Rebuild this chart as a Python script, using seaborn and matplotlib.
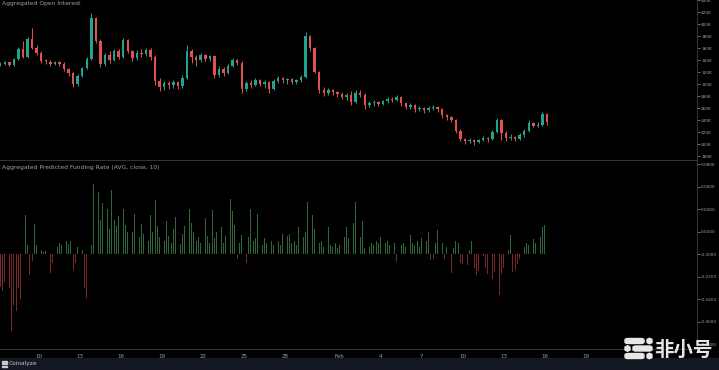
import numpy as np
import pandas as pd
import seaborn as sns
import matplotlib
matplotlib.use("Agg")
import matplotlib.pyplot as plt
import matplotlib.dates as mdates
from matplotlib.patches import Rectangle, FancyBboxPatch

# --- open interest, 8h candles (thousands of USD), first candle 7 Jan 04:00
oi_start = "2022-01-07 04:00"
oi_first_open = 331
oi_close = [333, 336, 332, 341, 358, 345, 375, 360, 352, 338,
            337, 333, 337, 334, 325, 318, 300, 314, 326, 342,
            410, 372, 333, 348, 340, 355, 345, 373, 355, 343,
            352, 350, 356, 345, 305, 295, 302, 298, 303, 296,
            310, 355, 345, 340, 348, 342, 346, 315, 325, 318,
            330, 340, 335, 292, 302, 298, 306, 300, 303, 292,
            305, 310, 306, 308, 303, 306, 312, 380, 360, 320,
            290, 285, 290, 286, 283, 278, 282, 270, 285, 282,
            265, 268, 270, 267, 271, 275, 273, 278, 268, 262,
            265, 258, 260, 256, 260, 262, 258, 248, 245, 240,
            222, 208, 205, 207, 203, 206, 210, 208, 220, 240,
            218, 210, 212, 208, 215, 222, 235, 230, 232, 250,
            236]
oi_high = [336, 338, 337, 343, 362, 372, 378, 393, 365, 355,
           342, 340, 339, 339, 336, 327, 320, 316, 328, 345,
           418, 412, 375, 352, 355, 358, 358, 377, 375, 357,
           356, 358, 360, 360, 348, 310, 305, 305, 306, 305,
           315, 365, 358, 348, 352, 350, 349, 348, 330, 328,
           333, 343, 342, 338, 305, 306, 310, 308, 307, 305,
           308, 313, 312, 310, 310, 309, 315, 387, 382, 362,
           322, 295, 293, 292, 288, 286, 285, 288, 290, 290,
           285, 271, 273, 272, 274, 278, 278, 281, 280, 270,
           268, 266, 263, 262, 263, 265, 264, 260, 250, 247,
           242, 225, 210, 210, 209, 209, 213, 212, 223, 243,
           242, 222, 216, 214, 218, 225, 240, 237, 236, 253,
           252]
oi_low = [330, 331, 330, 330, 340, 343, 344, 358, 348, 335,
          333, 330, 331, 330, 322, 314, 295, 296, 312, 325,
          340, 368, 328, 330, 335, 338, 342, 343, 352, 338,
          340, 345, 347, 340, 298, 288, 290, 292, 294, 292,
          294, 308, 335, 330, 336, 338, 338, 310, 312, 314,
          316, 328, 332, 285, 288, 294, 296, 296, 293, 285,
          290, 302, 302, 300, 300, 300, 303, 310, 355, 318,
          285, 280, 282, 282, 278, 275, 274, 265, 268, 278,
          258, 262, 264, 263, 265, 268, 270, 271, 264, 258,
          258, 254, 255, 252, 254, 256, 254, 244, 240, 236,
          218, 205, 200, 202, 199, 201, 205, 204, 206, 218,
          206, 205, 206, 205, 206, 212, 220, 228, 228, 230,
          232]

# --- aggregated predicted funding rate, 4h bars, first bar 7 Jan 04:00
fr_start = "2022-01-07 04:00"
funding = [-0.029, -0.033, -0.025, -0.036, -0.030, -0.068, -0.045, -0.051, -0.030, -0.040,
           -0.026, 0.035, 0.008, -0.019, -0.006, 0.027, 0.008, 0.003, 0.004, 0.002,
           0.003, -0.004, -0.017, -0.008, 0.004, 0.006, 0.010, 0.008, 0.032, 0.012,
           0.009, 0.012, -0.014, -0.008, 0.006, 0.012, 0.004, -0.030, -0.039, 0.012,
           0.008, 0.062, 0.050, 0.055, 0.030, 0.045, 0.032, 0.040, 0.022, 0.057,
           0.030, 0.025, 0.034, 0.018, 0.040, 0.026, 0.020, 0.012, 0.020, 0.036,
           0.022, 0.015, 0.027, 0.018, 0.024, 0.012, 0.035, 0.020, 0.048, 0.025,
           0.015, 0.020, 0.012, 0.029, 0.016, 0.010, 0.022, 0.033, 0.014, 0.009,
           0.018, 0.025, 0.062, 0.040, 0.028, 0.020, 0.012, 0.015, 0.010, 0.014,
           0.032, 0.016, 0.010, 0.039, 0.014, 0.020, 0.012, 0.024, 0.010, 0.016,
           0.022, 0.049, 0.038, 0.026, -0.004, 0.010, 0.017, -0.010, -0.008, 0.015,
           0.040, 0.012, 0.014, 0.036, 0.012, 0.008, 0.014, 0.010, 0.036, 0.012,
           0.008, 0.010, 0.012, 0.008, 0.018, 0.020, 0.016, 0.018, 0.010, 0.012,
           0.008, 0.024, 0.018, 0.015, 0.020, 0.046, 0.066, 0.035, 0.022, 0.018,
           0.010, 0.012, 0.006, 0.015, 0.024, 0.008, 0.006, 0.010, 0.005, 0.008,
           0.012, 0.015, 0.024, 0.014, 0.010, 0.028, 0.046, 0.032, 0.015, 0.029,
           0.005, -0.003, 0.006, 0.010, 0.008, 0.012, 0.010, 0.015, 0.018, 0.010,
           0.012, 0.008, 0.021, 0.010, -0.007, -0.004, 0.008, 0.010, 0.006, 0.012,
           0.017, 0.010, 0.008, 0.012, 0.006, 0.014, 0.024, 0.012, 0.020, -0.005,
           -0.004, 0.010, 0.021, 0.008, 0.010, -0.004, 0.006, -0.008, -0.017, 0.005,
           0.012, 0.010, -0.008, -0.009, -0.006, -0.010, 0.004, 0.012, -0.012, -0.019,
           -0.015, -0.011, -0.002, -0.012, -0.018, -0.014, -0.022, -0.016, -0.020, -0.036,
           -0.018, -0.012, -0.008, 0.004, 0.017, -0.016, -0.014, -0.009, -0.004, -0.002,
           0.006, 0.010, 0.008, 0.012, 0.013, 0.010, 0.008, 0.015, 0.024, 0.026,
           0.025]

date_ticks = ["2022-01-10", "2022-01-13", "2022-01-16", "2022-01-19", "2022-01-22",
              "2022-01-25", "2022-01-28", "2022-02-01", "2022-02-04", "2022-02-07",
              "2022-02-10", "2022-02-13", "2022-02-16", "2022-02-19"]
date_labels = ["10", "13", "16", "19", "22", "25", "28", "Feb", "4", "7",
               "10", "13", "16", "19"]
oi_ticks = [180, 200, 220, 240, 260, 280, 300, 320, 340, 360, 380, 400, 420, 440]
oi_labels = ["180K", "200K", "220K", "240K", "260K", "280K", "300K", "320K",
             "340K", "360K", "380K", "400K", "420K", "440K"]
fr_ticks = [-0.08, -0.06, -0.04, -0.02, 0.0, 0.02, 0.04, 0.06, 0.08]
fr_labels = ["-0.0800", "-0.0600", "-0.0400", "-0.0200", "-0.0000",
             "0.0200", "0.0400", "0.0600", "0.0800"]

UP, DOWN = "#22a38f", "#e0524f"
FR_UP, FR_DOWN = "#2f6636", "#7a2727"
TXT = "#9fa2ab"
LINE = "#2e323d"

sns.set_theme(style="dark", rc={"axes.facecolor": "black", "figure.facecolor": "black",
                                "axes.edgecolor": LINE, "text.color": TXT,
                                "xtick.color": TXT, "ytick.color": TXT})
plt.rcParams["font.family"] = ["DejaVu Sans", "Noto Sans CJK SC"]

W, H = 719, 370
fig = plt.figure(figsize=(W / 100, H / 100), dpi=100)
ax1 = fig.add_axes([0, 1 - 160 / H, 697 / W, 160 / H])
ax2 = fig.add_axes([0, 1 - 349 / H, 697 / W, 188 / H])

# candles
t_oi = mdates.date2num(pd.date_range(oi_start, periods=len(oi_close), freq="8h"))
close = np.array(oi_close, float)
opn = np.r_[oi_first_open, close[:-1]]
cols = np.where(close >= opn, UP, DOWN)
ax1.vlines(t_oi, oi_low, oi_high, colors=cols, linewidth=0.7)
body = np.where(np.abs(close - opn) < 1.5, 1.5, close - opn)
ax1.bar(t_oi, body, bottom=opn, width=0.18, color=cols, linewidth=0)

# funding bars
t_fr = mdates.date2num(pd.date_range(fr_start, periods=len(funding), freq="4h"))
fr = pd.DataFrame({"t": t_fr, "rate": funding})
fr["side"] = np.where(fr["rate"] >= 0, "up", "down")
sns.barplot(data=fr, x="t", y="rate", hue="side", palette={"up": FR_UP, "down": FR_DOWN},
            native_scale=True, dodge=False, errorbar=None, width=0.35, saturation=1,
            linewidth=0, legend=False, ax=ax2)

x0 = mdates.date2num(pd.Timestamp("2022-01-07 03:36"))
x1 = x0 + 697 / 13.67
for ax in (ax1, ax2):
    ax.set_xlim(x0, x1)
    ax.grid(False)
    ax.yaxis.tick_right()
    ax.tick_params(axis="y", length=2, width=0.5, pad=1, labelsize=3.1, colors=TXT)
    ax.set_xlabel("")
    ax.set_ylabel("")
    for s in ("top", "left"):
        ax.spines[s].set_visible(False)
    for s in ("right", "bottom"):
        ax.spines[s].set_color(LINE)
        ax.spines[s].set_linewidth(0.8)

ax1.set_ylim(440 - 160 / 12 * 20, 440)
ax1.set_yticks(oi_ticks, oi_labels)
ax1.set_xticks([])

ax2.set_ylim(-0.0844, 0.0827)
ax2.set_yticks(fr_ticks, fr_labels)
ax2.set_xticks(mdates.date2num(pd.to_datetime(date_ticks)), date_labels)
ax2.tick_params(axis="x", length=2, width=0.5, pad=1.5, labelsize=4, colors=TXT)

fig.text(2 / W, 1 - 4 / H, "Aggregated Open Interest", fontsize=4.3, color=TXT, va="center")
fig.text(2 / W, 1 - 168 / H, "Aggregated Predicted Funding Rate (AVG, close, 10)",
         fontsize=4.3, color=TXT, va="center")

# footer band
fig.patches.append(Rectangle((0, 0), 1, 12 / H, transform=fig.transFigure,
                             color="#141823", zorder=0))
for yy in [361.5, 364, 366.5]:
    fig.patches.append(Rectangle((2 / W, 1 - yy / H), 5 / W, 1 / H,
                                 transform=fig.transFigure, color="#c8cad0"))
fig.text(9 / W, 1 - 364 / H, "Coinalyze", fontsize=4.2, color="#c8cad0", va="center")

# watermark
rows = [(341, [(625, 19), (647, 5)]), (348.5, [(625, 5), (633, 19)]), (356, [(625, 19), (647, 5)])]
for yy, segs in rows:
    for xs, wd in segs:
        fig.patches.append(FancyBboxPatch((xs / W, 1 - (yy + 2.5) / H), wd / W, 5 / H,
                                          boxstyle="round,pad=0,rounding_size=0.004",
                                          transform=fig.transFigure, color="#e6e6e6",
                                          zorder=10))
fig.text(683 / W, 1 - 350 / H, "非小号", fontsize=14, fontweight="bold", color="#e6e6e6",
         ha="center", va="center", family=["Noto Sans CJK SC", "DejaVu Sans"], zorder=10)

fig.savefig("out.png", dpi=100, facecolor="black")
